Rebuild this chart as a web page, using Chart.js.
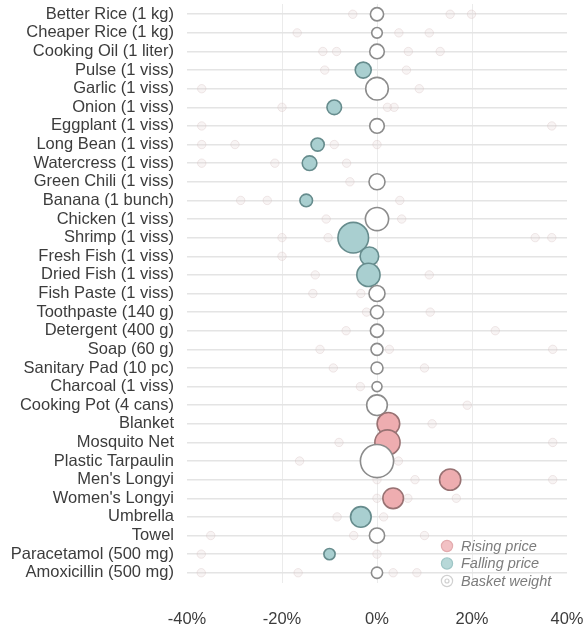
<!DOCTYPE html>
<html>
<head>
<meta charset="utf-8">
<script src="https://cdn.jsdelivr.net/npm/chart.js@4"></script>
<style>
html,body{margin:0;padding:0;background:#ffffff;}
#wrap{position:relative;width:584px;height:627px;}
</style>
</head>
<body>
<div id="wrap"><canvas id="chart"></canvas></div>
<script>
// ---- data ----
const categories = [
  "Better Rice (1 kg)", "Cheaper Rice (1 kg)", "Cooking Oil (1 liter)", "Pulse (1 viss)",
  "Garlic (1 viss)", "Onion (1 viss)", "Eggplant (1 viss)", "Long Bean (1 viss)",
  "Watercress (1 viss)", "Green Chili (1 viss)", "Banana (1 bunch)", "Chicken (1 viss)",
  "Shrimp (1 viss)", "Fresh Fish (1 viss)", "Dried Fish (1 viss)", "Fish Paste (1 viss)",
  "Toothpaste (140 g)", "Detergent (400 g)", "Soap (60 g)", "Sanitary Pad (10 pc)",
  "Charcoal (1 viss)", "Cooking Pot (4 cans)", "Blanket", "Mosquito Net",
  "Plastic Tarpaulin", "Men's Longyi", "Women's Longyi", "Umbrella", "Towel",
  "Paracetamol (500 mg)", "Amoxicillin (500 mg)"
];
// price change, %
const pctChange = [
  0, 0, 0, -2.9, 0, -9.0, 0, -12.5, -14.2, 0, -14.9, 0, -5.0, -1.6, -1.8, 0,
  0, 0, 0, 0, 0, 0, 2.4, 2.2, 0, 15.4, 3.4, -3.4, 0, -10.0, 0
];
// basket weight (bubble size)
const basketWeight = [
  6.6, 5.3, 7.3, 8.0, 11.3, 7.3, 7.3, 6.6, 7.3, 8.0, 6.3, 11.6, 15.3, 9.3, 11.6, 8.0,
  6.6, 6.6, 6.0, 6.0, 5.0, 10.3, 11.3, 12.6, 16.6, 10.6, 10.3, 10.3, 7.6, 5.6, 5.6
];
// faint background markers (row index, % change)
const ghostRow = [
  0,0,0, 1,1,1, 2,2,2,2, 3,3, 4,4, 5,5,5, 6,6, 7,7,7,7, 8,8,8, 9, 10,10,10, 11,11,
  12,12,12,12, 13, 14,14, 15,15, 16,16, 17,17, 18,18,18, 19,19, 20, 21, 22, 23,23,
  24,24, 25,25,25, 26,26,26, 27,27, 28,28,28, 29,29, 30,30,30,30
];
const ghostPct = [
  -5.1,15.4,19.9, -16.8,4.6,11.0, -11.4,-8.5,6.6,13.3, -11.0,6.2, -36.9,8.9, -20.0,2.2,3.6,
  -36.9,36.8, -36.9,-29.9,-9.0,0, -36.9,-21.5,-6.4, -5.7, -28.7,-23.1,4.8, -10.7,5.2,
  -20.0,-10.3,33.3,36.8, -20.0, -13.0,11.0, -13.5,-3.4, -2.2,11.2, -6.5,24.9,
  -12.0,2.6,37.0, -9.2,10.0, -3.5, 19.0, 11.6, -8.0,37.0, -16.3,4.5, 0,8.0,37.0,
  0,6.5,16.7, -8.4,1.4, -35.0,-4.9,10.0, -37.0,0, -37.0,-16.6,3.4,8.4
];
const xTickValues = [-40, -20, 0, 20, 40];
const legendLabels = ["Rising price", "Falling price", "Basket weight"];

// ---- styles ----
const FONT = '"Liberation Sans", Arial, Helvetica, sans-serif';
const RISE_FILL = '#eeadb0', RISE_LINE = '#987273';
const FALL_FILL = '#a9cfd0', FALL_LINE = '#668c8d';
const ZERO_FILL = '#ffffff', ZERO_LINE = '#8c8c8c';

const mainPoints = categories.map((c, i) => ({ x: pctChange[i], y: i, r: basketWeight[i] }));
const ghostPoints = ghostRow.map((row, i) => ({ x: ghostPct[i], y: row, r: 4.2 }));

const legendPlugin = {
  id: 'bubbleLegend',
  afterDatasetsDraw(chart) {
    const { ctx, chartArea } = chart;
    const x0 = chartArea.right - 120;
    const y0 = chartArea.bottom - 37;
    const styles = [
      { fill: '#f2c1c4', line: '#e3abae' },
      { fill: '#b7d8d8', line: '#9fc6c6' },
      { fill: '#ffffff', line: '#d0d0d0', inner: true }
    ];
    ctx.save();
    ctx.font = 'italic 14.5px ' + FONT;
    ctx.textBaseline = 'middle';
    ctx.textAlign = 'left';
    legendLabels.forEach((label, i) => {
      const y = y0 + i * 17.5;
      const s = styles[i];
      ctx.beginPath();
      ctx.arc(x0, y, 5.6, 0, Math.PI * 2);
      ctx.fillStyle = s.fill;
      ctx.fill();
      ctx.lineWidth = 1.2;
      ctx.strokeStyle = s.line;
      ctx.stroke();
      if (s.inner) {
        ctx.beginPath();
        ctx.arc(x0, y, 2, 0, Math.PI * 2);
        ctx.stroke();
      }
      ctx.fillStyle = '#7c7c7c';
      ctx.fillText(label, x0 + 14, y + 0.5);
    });
    ctx.restore();
  }
};

new Chart(document.getElementById('chart'), {
  type: 'bubble',
  data: {
    datasets: [
      {
        label: 'Price change',
        data: mainPoints,
        order: 0,
        backgroundColor: (ctx) => {
          const v = ctx.raw ? ctx.raw.x : 0;
          return v > 0 ? RISE_FILL : (v < 0 ? FALL_FILL : ZERO_FILL);
        },
        borderColor: (ctx) => {
          const v = ctx.raw ? ctx.raw.x : 0;
          return v > 0 ? RISE_LINE : (v < 0 ? FALL_LINE : ZERO_LINE);
        },
        borderWidth: 1.6,
        hoverRadius: 0
      },
      {
        label: 'Other',
        data: ghostPoints,
        order: 1,
        backgroundColor: 'rgba(226,210,210,0.25)',
        borderColor: 'rgba(212,190,190,0.32)',
        borderWidth: 1,
        hoverRadius: 0
      }
    ]
  },
  options: {
    responsive: true,
    maintainAspectRatio: false,
    animation: false,
    layout: { autoPadding: false, padding: { left: 9, right: 17, top: 4, bottom: 0 } },
    plugins: {
      legend: { display: false },
      tooltip: { enabled: false },
      title: { display: false }
    },
    scales: {
      x: {
        type: 'linear',
        min: -40,
        max: 40,
        afterBuildTicks: (scale) => { scale.ticks = xTickValues.map(v => ({ value: v })); },
        afterFit: (scale) => { scale.height = 44; scale.paddingLeft = 0; scale.paddingRight = 0; },
        ticks: {
          callback: (v) => v + '%',
          font: { family: FONT, size: 16.5 },
          color: '#3c3c3c',
          padding: 26.5,
          maxRotation: 0,
          autoSkip: false
        },
        grid: {
          drawTicks: false,
          lineWidth: 1,
          color: (ctx) => (ctx.tick && Math.abs(ctx.tick.value) === 40) ? 'rgba(0,0,0,0)' : '#ebebeb'
        },
        border: { display: false }
      },
      y: {
        type: 'linear',
        reverse: true,
        min: -0.55,
        max: 30.55,
        afterBuildTicks: (scale) => { scale.ticks = categories.map((c, i) => ({ value: i })); },
        afterFit: (scale) => { scale.width = 178; scale.paddingTop = 0; scale.paddingBottom = 0; },
        ticks: {
          callback: (v) => categories[v],
          font: { family: FONT, size: 16.5, lineHeight: 1.05 },
          color: '#3c3c3c',
          padding: 13,
          autoSkip: false
        },
        grid: { drawTicks: false, color: '#e4e4e4', lineWidth: 1.5 },
        border: { display: false }
      }
    }
  },
  plugins: [legendPlugin]
});
</script>
</body>
</html>
